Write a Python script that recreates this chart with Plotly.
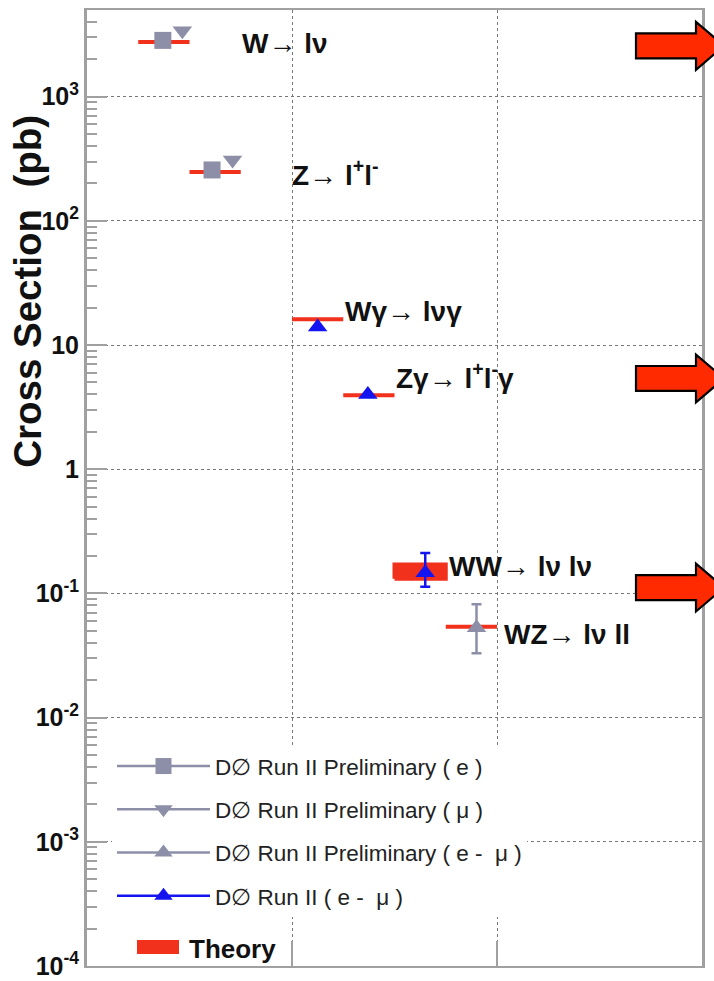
import plotly.graph_objects as go

# ---------------- data ----------------
PROCESS_LABELS = [
    "<b>W</b>→ <b>lν</b>",
    "<b>Z</b>→ <b>l<sup>+</sup>l<sup>-</sup></b>",
    "<b>Wγ</b>→ <b>lνγ</b>",
    "<b>Zγ</b>→ <b>l<sup>+</sup>l<sup>-</sup>γ</b>",
    "<b>WW</b>→ <b>lν lν</b>",
    "<b>WZ</b>→ <b>lν ll</b>",
]
THEORY_X0 = [0.25, 0.50, 1.00, 1.25, 1.50, 1.75]
THEORY_X1 = [0.50, 0.75, 1.25, 1.50, 1.75, 2.00]
THEORY_LO = [2750, 248, 16.1, 3.94, 0.131, 0.054]
THEORY_HI = [2750, 248, 16.1, 3.94, 0.171, 0.054]

E_X = [0.37, 0.61]
E_Y = [2840, 257]

MU_X = [0.465, 0.71]
MU_Y = [3400, 309]

EMU_PRE_X = [1.90]
EMU_PRE_Y = [0.053]
EMU_PRE_UP = [0.029]
EMU_PRE_DN = [0.020]

EMU_X = [1.125, 1.37, 1.65]
EMU_Y = [14.0, 4.0, 0.147]
EMU_UP = [None, None, 0.065]
EMU_DN = [None, None, 0.034]

SERIES_NAMES = [
    "D∅ Run II Preliminary ( e )",
    "D∅ Run II Preliminary ( μ )",
    "D∅ Run II Preliminary ( e -  μ )",
    "D∅ Run II ( e -  μ )",
]
Y_TICKS = [1e-4, 1e-3, 1e-2, 1e-1, 1, 10, 1e2, 1e3]
Y_TICKTEXT = ["10<sup>-4</sup>", "10<sup>-3</sup>", "10<sup>-2</sup>", "10<sup>-1</sup>",
              "1", "10", "10<sup>2</sup>", "10<sup>3</sup>"]

# ---------------- style ----------------
FONT = "Liberation Sans, Arial, Helvetica, sans-serif"
RED = "#f2311c"
GREY = "#8d8fa8"
BLUE = "#1414f0"
AXC = "#a0a0a0"
GRIDC = "#777777"

W, H = 714, 981
ML, MR, MT, MB = 87, 12, 10, 11
PW, PH = W - ML - MR, H - MT - MB


def paper(px, py):
    return (px - ML) / PW, (H - MB - py) / PH


fig = go.Figure()

# theory bands / lines
tx, ty = [], []
for x0, x1, lo, hi in zip(THEORY_X0, THEORY_X1, THEORY_LO, THEORY_HI):
    tx += [x0, x1, x1, x0, x0, None]
    ty += [lo, lo, hi, hi, lo, None]
fig.add_trace(go.Scatter(x=tx, y=ty, mode="lines", fill="toself", fillcolor=RED,
                         line=dict(color=RED, width=4), showlegend=False, hoverinfo="skip"))

# data series
fig.add_trace(go.Scatter(x=E_X, y=E_Y, mode="markers", name=SERIES_NAMES[0],
                         marker=dict(symbol="square", size=17, color=GREY),
                         showlegend=False))
fig.add_trace(go.Scatter(x=MU_X, y=MU_Y, mode="markers", name=SERIES_NAMES[1],
                         marker=dict(symbol="triangle-down", size=17, color=GREY),
                         showlegend=False))
fig.add_trace(go.Scatter(x=EMU_PRE_X, y=EMU_PRE_Y, mode="markers", name=SERIES_NAMES[2],
                         marker=dict(symbol="triangle-up", size=17, color=GREY),
                         error_y=dict(type="data", array=EMU_PRE_UP, arrayminus=EMU_PRE_DN,
                                      color=GREY, thickness=2.5, width=5),
                         showlegend=False))
fig.add_trace(go.Scatter(x=EMU_X, y=EMU_Y, mode="markers", name=SERIES_NAMES[3],
                         marker=dict(symbol="triangle-up", size=17, color=BLUE),
                         error_y=dict(type="data", array=EMU_UP, arrayminus=EMU_DN,
                                      color=BLUE, thickness=2.5, width=5),
                         showlegend=False))

# legend entries
leg_styles = [("square", GREY), ("triangle-down", GREY), ("triangle-up", GREY), ("triangle-up", BLUE)]
for i, (name, (sym, col)) in enumerate(zip(SERIES_NAMES, leg_styles)):
    fig.add_trace(go.Scatter(x=[None], y=[None], mode="lines+markers", name=name,
                             legendgroup=f"g{i}", legend="legend",
                             line=dict(color=col, width=2.5),
                             marker=dict(symbol=sym, size=16, color=col)))
fig.add_trace(go.Scatter(x=[None], y=[None], mode="lines", name="<b>Theory</b>",
                         legend="legend2", line=dict(color="rgba(0,0,0,0)", width=4)))

# process labels
LABEL_POS = [(0.746, 3.43), (0.99, 2.382), (1.249, 1.272), (1.498, 0.747),
             (1.756, -0.785), (2.024, -1.330)]
for txt, (lx, ly) in zip(PROCESS_LABELS, LABEL_POS):
    fig.add_annotation(x=lx, y=ly, xref="x", yref="y", text=txt, showarrow=False,
                       xanchor="left", yanchor="middle",
                       font=dict(family=FONT, size=28, color="#111"))

# axis title
tx_, ty_ = paper(28, 293)
fig.add_annotation(x=tx_, y=ty_, xref="paper", yref="paper",
                   text="<b>Cross Section\u00a0\u00a0(pb)</b>",
                   textangle=-90, showarrow=False, xanchor="center", yanchor="middle",
                   font=dict(family=FONT, size=38.5, color="#111"))

# red arrows on the right
for cy in [46, 380, 590]:
    pts = [(636, cy - 12.5), (696, cy - 12.5), (696, cy - 24), (724, cy),
           (696, cy + 24), (696, cy + 12.5), (636, cy + 12.5)]
    pp = [paper(a, b) for a, b in pts]
    path = "M " + " L ".join(f"{a:.5f},{b:.5f}" for a, b in pp) + " Z"
    fig.add_shape(type="path", path=path, xref="paper", yref="paper",
                  fillcolor="#ff2a00", line=dict(color="black", width=2.2), layer="above")

# theory legend swatch (plotly caps legend line widths, so draw the wide swatch)
x0p, y0p = paper(137, 958)
x1p, y1p = paper(179, 944)
fig.add_shape(type="rect", x0=x0p, y0=y0p, x1=x1p, y1=y1p, xref="paper", yref="paper",
              fillcolor=RED, line=dict(width=0), layer="above")

minor_vals = [k * 10 ** e for e in range(-4, 4) for k in range(2, 10) if k * 10 ** e < 5000]

fig.update_layout(
    width=W, height=H,
    margin=dict(l=ML, r=MR, t=MT, b=MB),
    paper_bgcolor="white", plot_bgcolor="white",
    font=dict(family=FONT, color="#111"),
    xaxis=dict(range=[0, 3], tickvals=[1, 2], showticklabels=False,
               ticks="inside", ticklen=25, tickcolor=AXC, tickwidth=1.5,
               showgrid=True, gridcolor=GRIDC, griddash="dot", gridwidth=1,
               showline=True, linecolor=AXC, linewidth=2, mirror=True, zeroline=False,
               automargin=False),
    yaxis=dict(type="log", range=[-4, 3.698], tickvals=Y_TICKS, ticktext=Y_TICKTEXT,
               ticks="inside", ticklen=20, tickcolor=AXC, tickwidth=2,
               tickfont=dict(family="Liberation Sans, Arial", size=25, color="#111", weight="bold"),
               ticklabelstandoff=0, ticklabeloverflow="allow",
               minor=dict(tickvals=minor_vals, ticks="inside", ticklen=10,
                          tickcolor=AXC, tickwidth=2, showgrid=False),
               showgrid=True, gridcolor=GRIDC, griddash="dot", gridwidth=1,
               showline=True, linecolor=AXC, linewidth=3, mirror=True, zeroline=False,
               automargin=False),
    legend=dict(x=paper(112, 0)[0], y=paper(0, 748)[1], xanchor="left", yanchor="top",
                bgcolor="white", borderwidth=0, itemwidth=93,
                traceorder="grouped", tracegroupgap=11,
                font=dict(family=FONT, size=22.5, color="#222")),
    legend2=dict(x=paper(132, 0)[0], y=paper(0, 928)[1], xanchor="left", yanchor="top",
                 bgcolor="rgba(0,0,0,0)", borderwidth=0, itemwidth=47,
                 font=dict(family=FONT, size=26, color="#111")),
    showlegend=True,
)

fig.write_html("out.html")
